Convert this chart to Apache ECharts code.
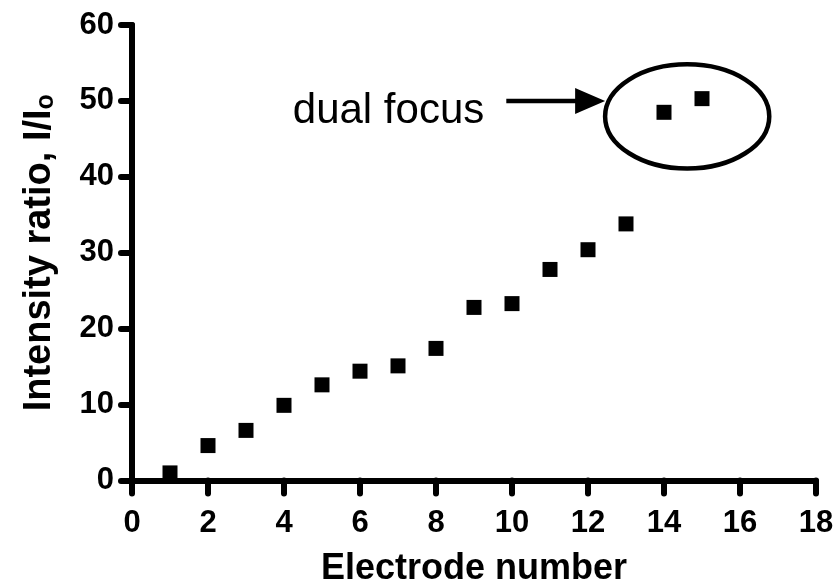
<!DOCTYPE html>
<html>
<head>
<meta charset="utf-8">
<script src="https://cdn.jsdelivr.net/npm/echarts@6/dist/echarts.min.js"></script>
<style>
html,body{margin:0;padding:0;background:#fff;}
#chart{width:840px;height:588px;}
</style>
</head>
<body>
<div id="chart"></div>
<script>
// Data
const electrodes = [1, 2, 3, 4, 5, 6, 7, 8, 9, 10, 11, 12, 13, 14, 15];
const intensityRatio = [1.0, 4.6, 6.6, 9.9, 12.6, 14.4, 15.1, 17.4, 22.8, 23.3, 27.8, 30.4, 33.8, 48.5, 50.3];
const xTickValues = [0, 2, 4, 6, 8, 10, 12, 14, 16, 18];
const yTickValues = [0, 10, 20, 30, 40, 50, 60];
const annotationText = 'dual focus';
// annotation anchors in data units
const ellipseCenter = [14.61, 47.96];
const ellipseRadius = [2.16, 6.86];
const arrowFrom = [9.85, 50.0];
const arrowTo = [12.45, 50.0];
const textAnchor = [9.27, 48.6];

const FONT = '"Liberation Sans", Arial, Helvetica, sans-serif';
const chart = echarts.init(document.getElementById('chart'), null, { renderer: 'canvas' });

chart.setOption({
  backgroundColor: '#fff',
  animation: false,
  grid: { left: 132, right: 24, top: 25, bottom: 107.5, containLabel: false, outerBoundsMode: 'none' },
  xAxis: {
    type: 'value', min: xTickValues[0], max: xTickValues[xTickValues.length - 1], interval: xTickValues[1] - xTickValues[0],
    name: 'Electrode number', nameLocation: 'middle', nameGap: 71,
    nameTextStyle: { color: '#000', fontFamily: FONT, fontWeight: 'bold', fontSize: 36 },
    axisLine: { show: true, onZero: false, lineStyle: { color: '#000', width: 6 } },
    axisTick: { show: true, inside: false, length: 13, lineStyle: { color: '#000', width: 6, cap: 'round' } },
    splitLine: { show: false },
    axisLabel: { color: '#000', fontFamily: FONT, fontWeight: 'bold', fontSize: 31, margin: 27 }
  },
  yAxis: {
    type: 'value', min: yTickValues[0], max: yTickValues[yTickValues.length - 1], interval: yTickValues[1] - yTickValues[0],
    name: '{a|Intensity ratio, I/I}{b|o}', nameLocation: 'middle', nameGap: 73,
    nameTextStyle: {
      color: '#000', fontFamily: FONT, fontWeight: 'bold', fontSize: 38,
      rich: {
        a: { fontFamily: FONT, fontWeight: 'bold', fontSize: 38, lineHeight: 38, color: '#000' },
        b: { fontFamily: FONT, fontWeight: 'bold', fontSize: 25, lineHeight: 38, verticalAlign: 'bottom', color: '#000' }
      }
    },
    axisLine: { show: true, onZero: false, lineStyle: { color: '#000', width: 6 } },
    axisTick: { show: true, inside: false, length: 11, lineStyle: { color: '#000', width: 6, cap: 'round' } },
    splitLine: { show: false },
    axisLabel: { color: '#000', fontFamily: FONT, fontWeight: 'bold', fontSize: 31, margin: 18 }
  },
  series: [{
    type: 'scatter',
    symbol: 'rect',
    symbolSize: 15,
    itemStyle: { color: '#000', opacity: 1 },
    emphasis: { disabled: true },
    data: electrodes.map((x, i) => [x, intensityRatio[i]]),
    z: 5
  }]
});

function drawAnnotations() {
  const px = (p) => chart.convertToPixel({ gridIndex: 0 }, p);
  const c = px(ellipseCenter);
  const ex = px([ellipseCenter[0] + ellipseRadius[0], ellipseCenter[1] + ellipseRadius[1]]);
  const a0 = px(arrowFrom);
  const a1 = px(arrowTo);
  const t = px(textAnchor);
  const headLen = 30, headHalf = 13;
  chart.setOption({
    graphic: [
      { type: 'ellipse', shape: { cx: c[0], cy: c[1], rx: Math.abs(ex[0] - c[0]), ry: Math.abs(ex[1] - c[1]) },
        style: { fill: 'none', stroke: '#000', lineWidth: 4.5 }, z: 10 },
      { type: 'line', shape: { x1: a0[0], y1: a0[1], x2: a1[0] - headLen + 2, y2: a1[1] },
        style: { stroke: '#000', lineWidth: 4.5 }, z: 10 },
      { type: 'polygon', shape: { points: [[a1[0], a1[1]], [a1[0] - headLen, a1[1] - headHalf], [a1[0] - headLen, a1[1] + headHalf]] },
        style: { fill: '#000' }, z: 10 },
      { type: 'text', x: t[0], y: t[1],
        style: { text: annotationText, fill: '#000', font: '42px ' + FONT, textAlign: 'right', textVerticalAlign: 'middle' }, z: 10 }
    ]
  });
}
drawAnnotations();
</script>
</body>
</html>
